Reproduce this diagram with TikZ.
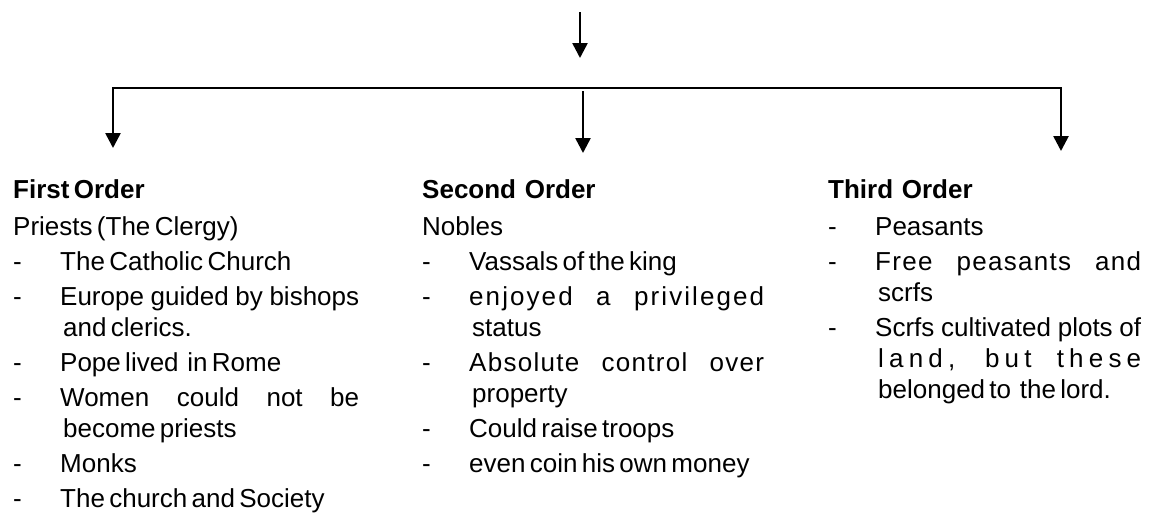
\documentclass[tikz,border=0pt]{standalone}
\usepackage{fontspec}
\setmainfont{Liberation Sans}[WordSpace=0.6]
\usepackage{tikz}
\usetikzlibrary{arrows.meta, positioning}

\newcommand{\bul}{\makebox[47pt][l]{-}}
\newcommand{\cont}{\hspace*{50pt}}
\newcommand{\fillto}[2]{\makebox[#1][s]{#2}}
\newcommand{\spaced}[2]{{\addfontfeature{LetterSpace=#1}#2}}

\begin{document}
\begin{tikzpicture}[
    x=1pt, y=-1pt,
    column/.style={anchor=north west, inner sep=0pt, align=left, font=\fontsize{26}{31}\selectfont},
    arrow/.style={-{Triangle[width=15pt, length=15pt]}, line width=2.6pt},
    fork/.style={{Triangle[width=15pt, length=15pt]}-{Triangle[width=15pt, length=15pt]}, line width=2.6pt}
]
\useasboundingbox (0,0) rectangle (1151,515);

% Coordinates
\coordinate (src) at (580,12);
\coordinate (hub) at (580,58);
\coordinate (leftend) at (113,148);
\coordinate (rightcorner) at (1061,88);
\coordinate (rightend) at (1061,151);
\coordinate (midstart) at (583,91);
\coordinate (midend) at (583,153);

% Nodes
\node[column] (first) at (13,177.5) {\rule{0pt}{21pt}\textbf{First Order}\\[6pt]
    Priests (The Clergy)\\[4pt]
    \bul The Catholic Church\\[4pt]
    \bul\fillto{299pt}{Europe guided by bishops}\\
    \cont and clerics.\\[4pt]
    \bul Pope lived\ \ in Rome\\[4pt]
    \bul\fillto{299pt}{Women could not be}\\
    \cont become priests\\[4pt]
    \bul Monks\\[4pt]
    \bul The church and Society};
\node[column] (second) at (422,177.5) {\rule{0pt}{21pt}\textbf{Second\ \ Order}\\[6pt]
    Nobles\\[4pt]
    \bul Vassals of the king\\[4pt]
    \bul\fillto{295pt}{\spaced{8}{enjoyed a privileged}}\\
    \cont status\\[4pt]
    \bul\fillto{295pt}{\spaced{5}{Absolute control over}}\\
    \cont property\\[4pt]
    \bul Could raise troops\\[4pt]
    \bul even coin his own money};
\node[column] (third) at (828,177.5) {\rule{0pt}{21pt}\textbf{Third\ \ Order}\\[6pt]
    \bul Peasants\\[4pt]
    \bul\fillto{266pt}{\spaced{5}{Free peasants and}}\\
    \cont scrfs\\[4pt]
    \bul\fillto{266pt}{Scrfs cultivated plots of}\\
    \cont\fillto{263pt}{\spaced{20}{land, but these}}\\
    \cont belonged to\ \ the lord.};

% Edges
\draw[arrow] (src) -- (hub);
\draw[fork] (leftend) |- (rightcorner) -- (rightend);
\draw[arrow] (midstart) -- (midend);

\end{tikzpicture}
\end{document}
